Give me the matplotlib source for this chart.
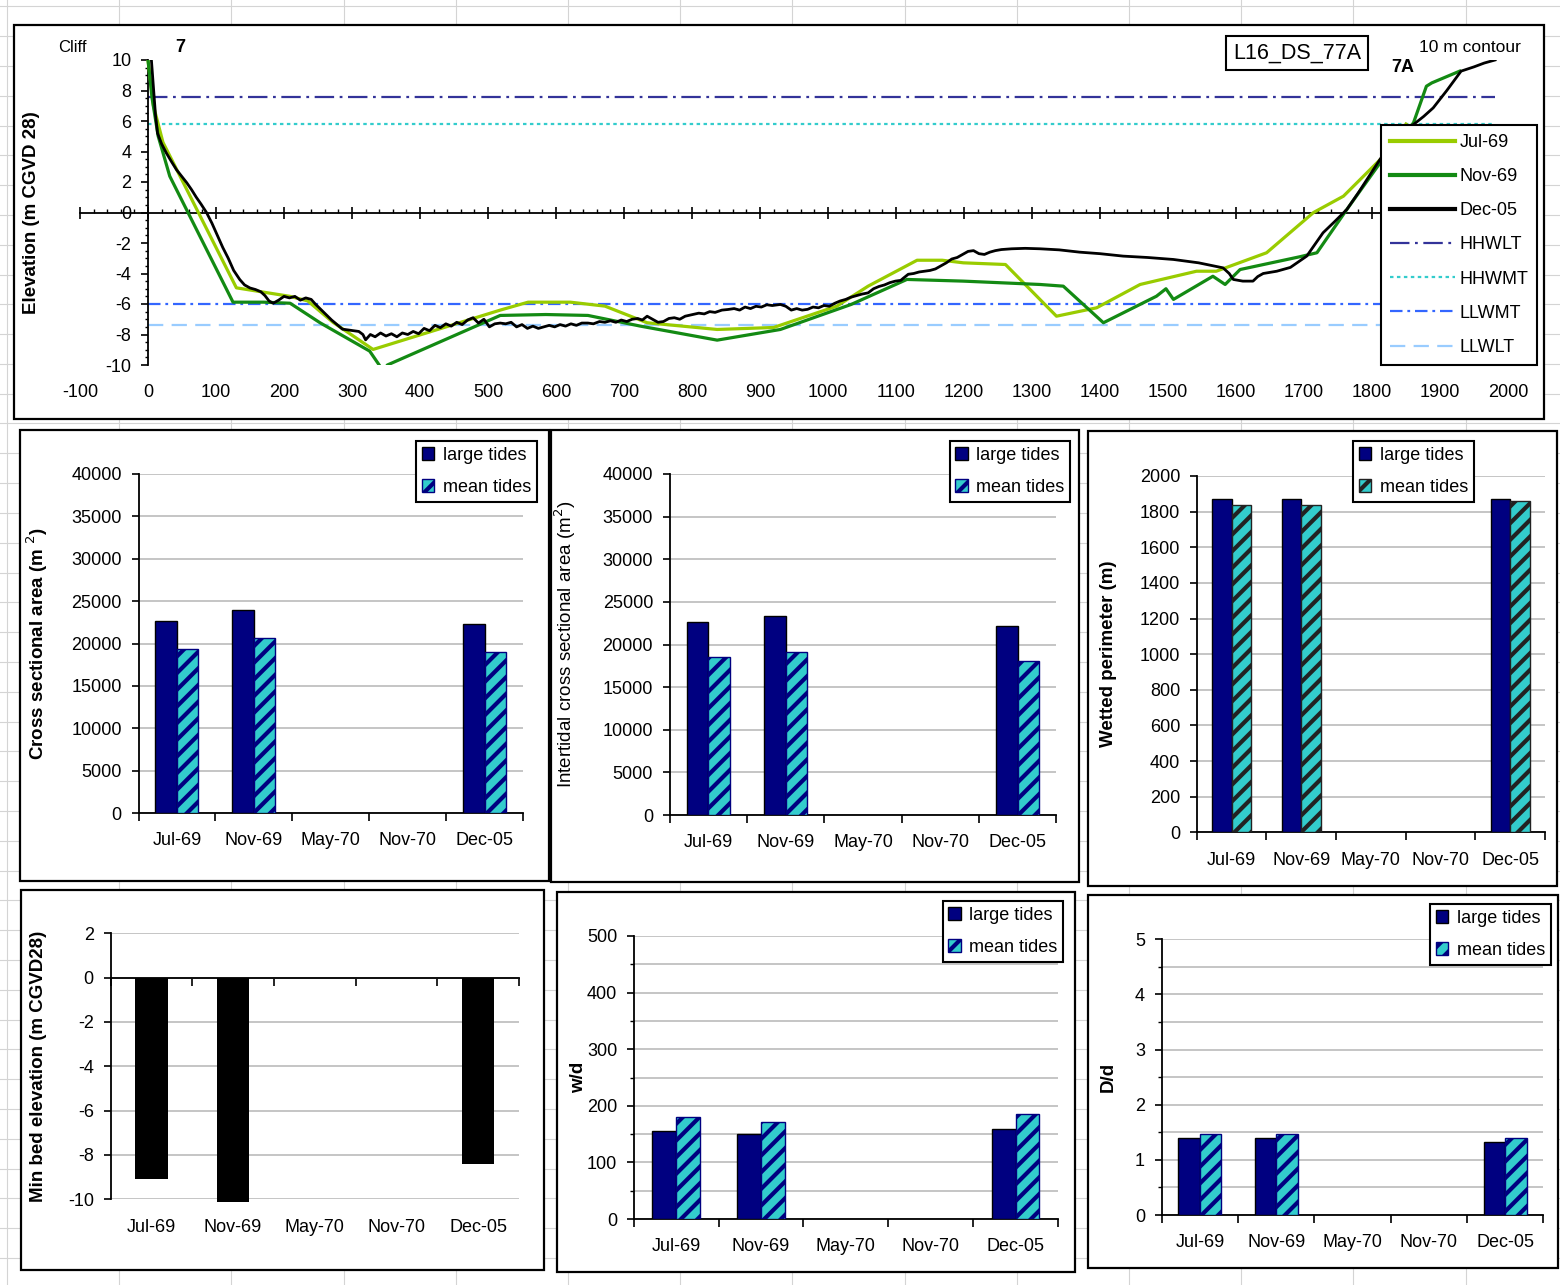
import matplotlib
matplotlib.use("Agg")
import matplotlib.pyplot as plt
import numpy as np
from matplotlib.lines import Line2D
from matplotlib.patches import Patch, Rectangle
from matplotlib.ticker import MultipleLocator

plt.rcParams["font.family"] = ["Liberation Sans", "DejaVu Sans"]
plt.rcParams["hatch.linewidth"] = 3.0
plt.rcParams["lines.scale_dashes"] = False
plt.rcParams["axes.unicode_minus"] = False

W, H = 1560, 1285

# --- cross-section profiles (distance m, elevation m CGVD28) ---
jul69_x = [0, 8, 22, 130, 209, 235, 272, 331, 518, 559, 621, 672, 734, 837, 920, 1013,
           1059, 1131, 1168, 1199, 1261, 1336, 1395, 1459, 1542, 1571, 1645, 1714, 1758,
           1817, 1850]
jul69_y = [10, 7.0, 4.6, -4.94, -5.5, -5.8, -7.2, -8.98, -6.4, -5.88, -5.88, -6.14, -7.23,
           -7.67, -7.54, -6.14, -4.83, -3.13, -3.13, -3.3, -3.41, -6.8, -6.25, -4.72, -3.85,
           -3.85, -2.64, 0.0, 1.07, 3.69, 5.8]

nov69_x = [0, 6, 15, 32, 125, 170, 209, 253, 326, 340, 346, 352, 518, 585, 647, 724, 837,
           930, 1034, 1116, 1199, 1312, 1346, 1405, 1483, 1497, 1508, 1566, 1584, 1606,
           1694, 1719, 1763, 1812, 1861, 1880, 1888, 1929]
nov69_y = [10, 7.5, 5.0, 2.38, -5.88, -5.88, -5.95, -7.23, -9.09, -10.0, -10.4, -10.0,
           -6.75, -6.69, -6.75, -7.45, -8.37, -7.67, -6.03, -4.39, -4.5, -4.72, -4.83, -7.23,
           -5.49, -5.0, -5.7, -4.18, -4.72, -3.74, -2.9, -2.64, 0.2, 3.26, 5.88, 8.28, 8.5,
           9.27]

dec05_x = [5, 8, 11, 14, 20, 27, 35, 42, 50, 57, 64, 71, 78, 86, 94, 102, 110, 118, 126,
           135, 142, 150, 158, 166, 172, 178, 184, 192, 200, 208, 216, 224, 232, 240, 246,
           254, 262, 270, 278, 286, 294, 302, 310, 316, 320, 327, 334, 342, 350, 358, 366,
           374, 382, 390, 398, 406, 414, 422, 430, 438, 446, 454, 462, 470, 478, 486, 494,
           502, 510, 518, 526, 534, 542, 550, 558, 566, 574, 582, 590, 598, 606, 614, 622,
           630, 638, 647, 655, 664, 672, 680, 688, 696, 704, 712, 720, 727, 734, 742, 750,
           758, 766, 774, 782, 790, 801, 810, 818, 826, 834, 844, 853, 862, 870, 878, 886,
           894, 902, 910, 918, 930, 938, 946, 954, 962, 970, 978, 986, 994, 1002, 1010,
           1018, 1026, 1034, 1042, 1050, 1059, 1067, 1075, 1083, 1091, 1099, 1107, 1111,
           1118, 1126, 1134, 1142, 1150, 1158, 1166, 1174, 1182, 1190, 1198, 1206, 1214,
           1222, 1230, 1238, 1246, 1255, 1270, 1290, 1312, 1340, 1370, 1400, 1434, 1470,
           1508, 1545, 1581, 1590, 1596, 1610, 1625, 1632, 1640, 1660, 1680, 1704, 1716,
           1728, 1745, 1763, 1780, 1796, 1812, 1830, 1845, 1861, 1876, 1890, 1910, 1931,
           1950, 1965, 1981]
dec05_y = [10, 8.2, 6.4, 5.2, 4.5, 3.9, 3.3, 2.8, 2.35, 1.95, 1.5, 1.0, 0.55, 0.0, -0.7,
           -1.5, -2.3, -3.0, -3.8, -4.4, -4.75, -4.95, -5.05, -5.2, -5.45, -5.8, -5.95,
           -5.75, -5.5, -5.6, -5.5, -5.75, -5.6, -5.7, -6.0, -6.35, -6.7, -7.05, -7.35,
           -7.65, -7.7, -7.75, -7.8, -8.0, -8.35, -8.0, -8.15, -7.9, -8.1, -7.95, -8.15,
           -7.9, -8.0, -7.8, -7.95, -7.6, -7.75, -7.4, -7.55, -7.3, -7.45, -7.2, -7.35,
           -7.05, -6.9, -7.25, -7.0, -7.5, -7.3, -7.25, -7.3, -7.2, -7.5, -7.35, -7.6,
           -7.45, -7.6, -7.5, -7.4, -7.5, -7.35, -7.45, -7.3, -7.4, -7.25, -7.25, -7.3,
           -7.15, -7.2, -7.1, -7.2, -7.05, -7.15, -7.0, -6.95, -7.05, -6.8, -7.0, -7.2,
           -7.15, -6.95, -6.9, -7.0, -6.8, -6.69, -6.6, -6.65, -6.5, -6.55, -6.4, -6.36,
           -6.3, -6.4, -6.2, -6.3, -6.15, -6.2, -6.05, -6.1, -6.03, -6.15, -6.4, -6.3,
           -6.4, -6.35, -6.2, -6.25, -6.1, -6.15, -5.95, -5.8, -5.7, -5.55, -5.45, -5.35,
           -5.27, -5.0, -4.85, -4.75, -4.6, -4.5, -4.45, -4.3, -4.05, -4.0, -3.9, -3.85,
           -3.8, -3.7, -3.5, -3.3, -3.05, -2.95, -2.75, -2.55, -2.5, -2.7, -2.75, -2.6,
           -2.5, -2.43, -2.38, -2.35, -2.38, -2.45, -2.6, -2.7, -2.86, -2.95, -3.08, -3.3,
           -3.63, -4.0, -4.39, -4.5, -4.5, -4.2, -4.0, -3.85, -3.6, -2.86, -2.1, -1.33,
           -0.6, 0.2, 1.3, 2.4, 3.5, 4.6, 5.3, 5.77, 6.3, 6.86, 8.0, 9.27, 9.55, 9.8, 10.0]

tide_names = ["HHWLT", "HHWMT", "LLWMT", "LLWLT"]
tide_levels = [7.6, 5.8, -6.0, -7.4]

# --- summary bar data ---
dates = ["Jul-69", "Nov-69", "May-70", "Nov-70", "Dec-05"]
area_large = [22700, 24000, np.nan, np.nan, 22300]
area_mean = [19400, 20600, np.nan, np.nan, 19000]
inter_large = [22600, 23400, np.nan, np.nan, 22200]
inter_mean = [18500, 19100, np.nan, np.nan, 18100]
perim_large = [1870, 1870, np.nan, np.nan, 1870]
perim_mean = [1840, 1840, np.nan, np.nan, 1860]
min_bed = [-9.1, -10.1, np.nan, np.nan, -8.4]
wd_large = [156, 150, np.nan, np.nan, 159]
wd_mean = [180, 171, np.nan, np.nan, 186]
Dd_large = [1.40, 1.40, np.nan, np.nan, 1.33]
Dd_mean = [1.46, 1.46, np.nan, np.nan, 1.39]

NAVY = "#000080"
TURQ = "#33cccc"
LIME = "#99cc00"
GREEN = "#138a13"
GRID = "#c0c0c0"
FS = 13


def fig_box(x0, y0, x1, y1):
    return [x0 / W, 1 - y1 / H, (x1 - x0) / W, (y1 - y0) / H]


def frame(fig, x0, y0, x1, y1):
    fig.add_artist(Rectangle((x0 / W, 1 - y1 / H), (x1 - x0) / W, (y1 - y0) / H,
                             transform=fig.transFigure, facecolor="white",
                             edgecolor="black", lw=1.6, zorder=-1))


def sheet_grid(fig):
    for x in np.arange(7, W, 112.2):
        fig.add_artist(Line2D([x / W, x / W], [0, 1], transform=fig.transFigure,
                              color="#d4d4d4", lw=0.8, zorder=-2))
    for y in np.arange(6.3, H, 29.8):
        fig.add_artist(Line2D([0, 1], [1 - y / H, 1 - y / H], transform=fig.transFigure,
                              color="#d4d4d4", lw=0.8, zorder=-2))


def style_axes(ax):
    for s in ("top", "right"):
        ax.spines[s].set_visible(False)
    for s in ("left", "bottom"):
        ax.spines[s].set_linewidth(1.3)
    ax.tick_params(axis="y", which="major", direction="out", length=5, width=1.2,
                   pad=7, labelsize=FS)


def bar_panel(fig, plot_px, large, mean, ylim, major, ylabel, label_x, legend_px,
              hatch_edge=NAVY, minor=None, bold=True, width=0.28):
    ax = fig.add_axes(fig_box(*plot_px))
    x = np.arange(len(dates))
    large = np.asarray(large, float)
    mean = np.asarray(mean, float)
    ok = np.isfinite(large)
    ax.bar(x[ok] - width / 2, large[ok], width, color=NAVY, edgecolor="black", lw=1, zorder=3)
    ax.bar(x[ok] + width / 2, mean[ok], width, color=TURQ, edgecolor=hatch_edge,
           hatch="//", lw=1, zorder=3)
    ax.set_xlim(-0.5, len(dates) - 0.5)
    ax.set_ylim(*ylim)
    ax.yaxis.set_major_locator(MultipleLocator(major))
    if minor:
        ax.yaxis.set_minor_locator(MultipleLocator(minor))
        ax.tick_params(axis="y", which="minor", direction="out", length=3, width=1.0)
    ax.grid(axis="y", which="both", color=GRID, lw=1.3, zorder=0)
    ax.set_axisbelow(True)
    ax.set_xticks(np.arange(-0.5, len(dates), 1))
    ax.set_xticklabels([])
    ax.set_xticks(x, minor=True)
    ax.set_xticklabels(dates, minor=True)
    ax.tick_params(axis="x", which="major", direction="out", length=6, width=1.2)
    ax.tick_params(axis="x", which="minor", length=0, pad=14, labelsize=FS)
    style_axes(ax)
    ax.set_ylabel(ylabel, fontsize=13.5, fontweight="bold" if bold else "normal")
    ax.yaxis.set_label_coords(label_x / W, 1 - (plot_px[1] + plot_px[3]) / 2 / H,
                              transform=fig.transFigure)
    handles = [Patch(facecolor=NAVY, edgecolor="black"),
               Patch(facecolor=TURQ, edgecolor=hatch_edge, hatch="//")]
    leg = ax.legend(handles, ["large tides", "mean tides"], loc="upper left",
                    bbox_to_anchor=(legend_px[0] / W, 1 - legend_px[1] / H),
                    bbox_transform=fig.transFigure, fancybox=False, edgecolor="black",
                    framealpha=1, borderaxespad=0, handlelength=0.7, handleheight=0.7,
                    handletextpad=0.45, labelspacing=0.85, borderpad=0.32, fontsize=FS)
    leg.get_frame().set_linewidth(1.5)
    return ax


fig = plt.figure(figsize=(W / 100, H / 100), dpi=100)
sheet_grid(fig)

# frames of the individual chart objects
frame(fig, 14, 25, 1544, 419)
frame(fig, 20, 430, 549, 881)
frame(fig, 551, 430, 1079, 882)
frame(fig, 1088, 431, 1557, 886)
frame(fig, 21, 890, 544, 1270)
frame(fig, 557, 892, 1075, 1272)
frame(fig, 1088, 895, 1558, 1268)

# ---------------- profile chart ----------------
ax = fig.add_axes(fig_box(80, 60, 1508, 365))
ax.set_xlim(-100, 2000)
ax.set_ylim(-10, 10)
ax.plot(jul69_x, jul69_y, color=LIME, lw=2.3, label="Jul-69", zorder=3)
ax.plot(nov69_x, nov69_y, color=GREEN, lw=2.3, label="Nov-69", zorder=3)
ax.plot(dec05_x, dec05_y, color="black", lw=2.0, label="Dec-05", zorder=4)
tide_styles = [("#333399", (14, 4, 2, 4)), (TURQ, (2.5, 2.5)),
               ("#3366ff", (9, 3.5, 2, 3.5)), ("#99ccff", (11, 6))]
for name, level, (col, dash) in zip(tide_names, tide_levels, tide_styles):
    ax.plot([0, max(dec05_x)], [level, level], color=col, lw=1.6, dashes=dash,
            label=name, zorder=2)

for s in ("top", "right"):
    ax.spines[s].set_visible(False)
ax.spines["left"].set_position(("data", 0))
ax.spines["bottom"].set_position(("data", 0))
ax.spines["left"].set_linewidth(1.3)
ax.spines["bottom"].set_linewidth(1.3)
ax.xaxis.set_major_locator(MultipleLocator(100))
ax.xaxis.set_minor_locator(MultipleLocator(20))
ax.yaxis.set_major_locator(MultipleLocator(2))
ax.yaxis.set_minor_locator(MultipleLocator(0.5))
ax.tick_params(axis="x", which="major", direction="inout", length=9, width=1.2,
               labelbottom=False)
ax.tick_params(axis="x", which="minor", direction="in", length=3, width=1.0)
ax.tick_params(axis="y", which="major", direction="out", length=5, width=1.2, pad=7,
               labelsize=FS)
ax.tick_params(axis="y", which="minor", direction="out", length=2.5, width=1.0)
sec = ax.secondary_xaxis("bottom")
sec.set_xticks(np.arange(-100, 2001, 100))
sec.tick_params(length=0, pad=14, labelsize=FS)
sec.spines["bottom"].set_visible(False)
ax.set_ylabel("Elevation (m CGVD 28)", fontsize=13.5, fontweight="bold")
ax.yaxis.set_label_coords(40 / W, 1 - 213 / H, transform=fig.transFigure)

leg = ax.legend(loc="upper left", bbox_to_anchor=(1381 / W, 1 - 125 / H),
                bbox_transform=fig.transFigure, fancybox=False, edgecolor="black",
                framealpha=1, borderaxespad=0, handlelength=3.6, handletextpad=0.25,
                labelspacing=0.95, borderpad=0.5, fontsize=FS)
leg.get_frame().set_linewidth(1.5)
for line in leg.get_lines()[:3]:
    line.set_linewidth(3)

fig.text(72 / W, 1 - 47 / H, "Cliff", ha="center", va="center", fontsize=12)
fig.text(180 / W, 1 - 47 / H, "7", ha="center", va="center", fontsize=13, fontweight="bold")
fig.text(1403 / W, 1 - 68 / H, "7A", ha="center", va="center", fontsize=13,
         fontweight="bold")
fig.text(1470 / W, 1 - 47 / H, "10 m contour", ha="center", va="center", fontsize=12.5)
fig.text(1297 / W, 1 - 53 / H, "L16_DS_77A", ha="center", va="center", fontsize=15.5,
         bbox=dict(boxstyle="square,pad=0.3", fc="white", ec="black", lw=1.5))

# ---------------- bar charts ----------------
bar_panel(fig, (138.5, 474, 523, 813), area_large, area_mean, (0, 40000), 5000,
          r"Cross sectional area (m $^{2}$)", 50, (416, 441))
bar_panel(fig, (669.7, 474, 1056.4, 815), inter_large, inter_mean, (0, 40000), 5000,
          r"Intertidal cross sectional area (m$^{2}$)", 578, (949.6, 441), bold=False)
bar_panel(fig, (1196.7, 476, 1545, 832.3), perim_large, perim_mean, (0, 2000), 200,
          "Wetted perimeter (m)", 1117, (1353, 441), hatch_edge="#222222")
bar_panel(fig, (633.8, 936, 1058, 1219), wd_large, wd_mean, (0, 500), 100,
          "w/d", 587, (942.7, 901), minor=50)
bar_panel(fig, (1161.7, 939.3, 1543.3, 1215), Dd_large, Dd_mean, (0, 5), 1,
          "D/d", 1117, (1430, 904), minor=0.5)

# min bed elevation (single series, axis crosses at 0)
ax = fig.add_axes(fig_box(110.5, 933.3, 519, 1199.3))
xb = np.arange(len(dates))
mb = np.asarray(min_bed, float)
ok = np.isfinite(mb)
ax.bar(xb[ok], mb[ok], 0.4, color="black", clip_on=False, zorder=3)
ax.set_xlim(-0.5, len(dates) - 0.5)
ax.set_ylim(-10, 2)
ax.yaxis.set_major_locator(MultipleLocator(2))
ax.grid(axis="y", color=GRID, lw=1.3, zorder=0)
ax.set_axisbelow(True)
style_axes(ax)
ax.spines["bottom"].set_position(("data", 0))
ax.set_xticks(np.arange(-0.5, len(dates), 1))
ax.tick_params(axis="x", which="major", direction="out", length=6, width=1.2,
               labelbottom=False)
secb = ax.secondary_xaxis("bottom")
secb.set_xticks(xb, labels=dates)
secb.tick_params(length=0, pad=14, labelsize=FS)
secb.spines["bottom"].set_visible(False)
ax.set_ylabel("Min bed elevation (m CGVD28)", fontsize=13.5, fontweight="bold")
ax.yaxis.set_label_coords(47 / W, 1 - 1066 / H, transform=fig.transFigure)

fig.savefig("out.png", dpi=100, facecolor="white")
